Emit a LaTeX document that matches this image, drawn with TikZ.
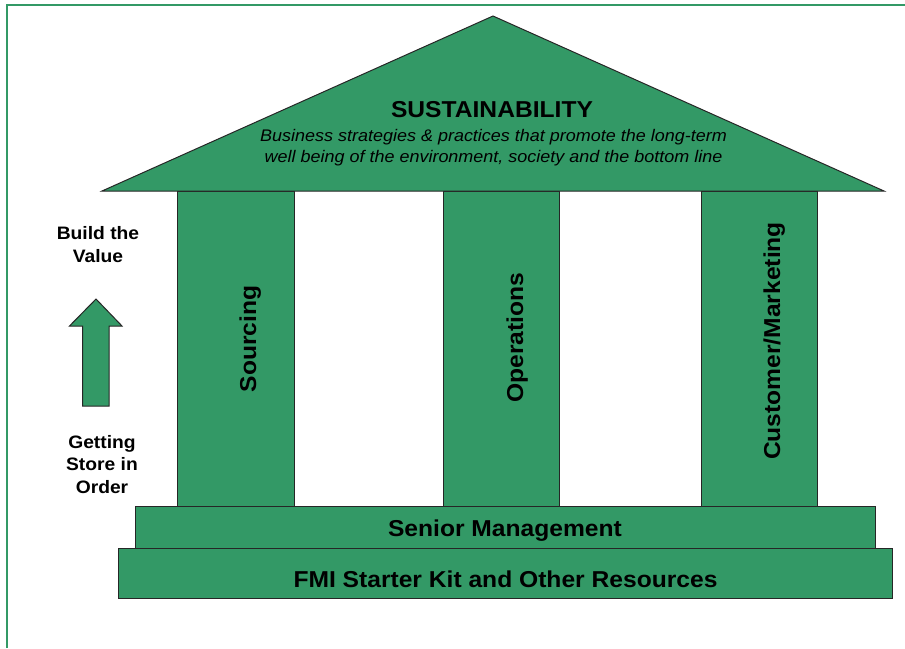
\documentclass[tikz,border=0pt]{standalone}
\usepackage{fontspec}
\setmainfont{Liberation Sans}[FakeStretch=1.07]
\usetikzlibrary{positioning}
\definecolor{templegreen}{RGB}{51,153,102}

\begin{document}
\begin{tikzpicture}[x=1pt, y=-1pt,
    block/.style={draw=black!85, fill=templegreen, line width=1pt, inner sep=0pt},
    bigtext/.style={font=\fontsize{23}{28}\selectfont\bfseries, inner sep=0pt, anchor=base},
    sidetext/.style={font=\fontsize{18}{22.4}\selectfont\bfseries, align=center, inner sep=0pt, anchor=base}]
    \useasboundingbox (0,0) rectangle (905,648);

    % Draw the green frame (only left and top edges show)
        \draw[templegreen, line width=2pt] (7,648) -- (7,5) -- (905,5);

    % Draw the three pillars
        \node[block, minimum width=117pt, minimum height=316pt] (sourcing) at (235.5,349) {};
        \node[block, minimum width=116pt, minimum height=316pt] (operations) at (501,349) {};
        \node[block, minimum width=116pt, minimum height=316pt] (customer) at (759.5,349) {};

        % Pillar labels, read bottom to top
        \node[bigtext, rotate=90] (sourcingtext) at (256,339) {Sourcing};
        \node[bigtext, rotate=90] (operationstext) at (523,337.5) {Operations};
        \node[bigtext, rotate=90] (customertext) at (780,341) {Customer/Marketing};

    % Draw the roof
        \coordinate (roofleft) at (102,191);
        \coordinate (apex) at (493,16);
        \coordinate (roofright) at (884,191);
        \draw[block] (roofleft) -- (apex) -- (roofright) -- cycle;
        \node[bigtext] (sustain) at (492,117.3) {SUSTAINABILITY};
        % base of a two-line node is the base of its last line
        \node[font=\fontsize{16.8}{21.7}\selectfont\itshape, align=center, inner sep=0pt, anchor=base] (sustaindef) at (493.5,162.7)
            {Business strategies \& practices that promote the long-term\\well being of the environment, society and the bottom line};

    % Draw the two steps of the base
        \node[block, minimum width=740pt, minimum height=41.5pt] (senior) at (505.5,527.5) {};
        \node[bigtext] (seniortext) at (505,536.5) {Senior Management};
        \node[block, minimum width=773.5pt, minimum height=50pt] (kit) at (505.5,573.5) {};
        \node[bigtext] (kittext) at (505.5,587) {FMI Starter Kit and Other Resources};

    % Draw the arrow with its two labels
        \node[sidetext] (buildtext) at (98,262.3) {Build the\\Value};
        \draw[block] (96,299) -- (122,326) -- (109,326) -- (109,406) -- (82.5,406) -- (82.5,326) -- (69.5,326) -- cycle;
        \node[sidetext] (ordertext) at (102,493.3) {Getting\\Store in\\Order};
\end{tikzpicture}
\end{document}
